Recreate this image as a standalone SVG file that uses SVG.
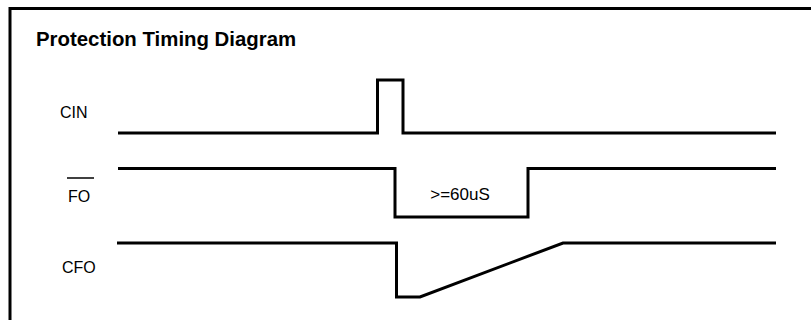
<svg xmlns="http://www.w3.org/2000/svg" width="811" height="320" viewBox="0 0 811 320">
<style>
.sig{fill:none;stroke:#000;stroke-width:3;stroke-linejoin:miter;stroke-linecap:butt}
.lbl{font-family:"Liberation Sans",Arial,sans-serif;font-size:16px;fill:#000}
.title{font-family:"Liberation Sans",Arial,sans-serif;font-size:20.4px;font-weight:bold;fill:#000}
</style>
<rect width="811" height="320" fill="#fff"/>
<path d="M10 320 V8.5 H811" fill="none" stroke="#000" stroke-width="3"/>
<text class="title" x="36" y="46">Protection Timing Diagram</text>
<g id="cin">
<text class="lbl" x="60" y="118">CIN</text>
<path class="sig" d="M118 133 H377.5 V80 H403 V133 H776"/>
</g>
<g id="fo">
<text class="lbl" x="68" y="202">FO</text>
<line x1="67" y1="178" x2="94" y2="178" stroke="#000" stroke-width="1.5"/>
<path class="sig" d="M118 168.5 H395 V217 H528 V168.5 H776"/>
<text class="lbl" x="460" y="200" text-anchor="middle" style="font-size:17px">&gt;=60uS</text>
</g>
<g id="cfo">
<text class="lbl" x="62" y="273">CFO</text>
<path class="sig" d="M117 243 H396.5 V297 H420 L563 243 H776"/>
</g>
</svg>
